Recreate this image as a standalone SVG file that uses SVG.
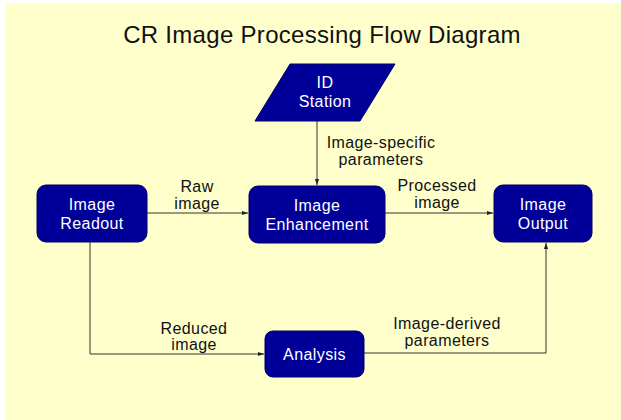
<svg xmlns="http://www.w3.org/2000/svg" width="621" height="420" viewBox="0 0 621 420">
<defs>
<style>
.node{fill:#000099;stroke:#000066;stroke-width:1}
.nt{font-family:"Liberation Sans",Arial,sans-serif;font-size:16px;letter-spacing:0.4px;fill:#ffffff;text-anchor:middle}
.lb{font-family:"Liberation Sans",Arial,sans-serif;font-size:16px;letter-spacing:0.4px;fill:#111111;text-anchor:middle}
.edge{fill:none;stroke:#333333;stroke-width:1}
</style>
<marker id="ah" viewBox="0 0 10 10" refX="10" refY="5" markerWidth="6" markerHeight="6" orient="auto" markerUnits="userSpaceOnUse">
<path d="M0,1.5 L10,5 L0,8.5 z" fill="#222222"/>
</marker>
</defs>
<rect x="0" y="0" width="621" height="420" fill="#ffffff"/>
<rect x="6" y="3" width="615" height="417" fill="#FFFFCC"/>
<text x="322" y="43" font-family="'Liberation Sans',Arial,sans-serif" font-size="24" letter-spacing="0.3" fill="#111111" text-anchor="middle">CR Image Processing Flow Diagram</text>
<g id="connectors">
<path class="edge" d="M147,213 H248" marker-end="url(#ah)"/>
<path class="edge" d="M385,213 H493" marker-end="url(#ah)"/>
<path class="edge" d="M317,121 V185" marker-end="url(#ah)"/>
<path class="edge" d="M90,242 V354 H264" marker-end="url(#ah)"/>
<path class="edge" d="M364,353 H546 V243" marker-end="url(#ah)"/>
<text class="lb" x="197" y="192">Raw</text>
<text class="lb" x="197" y="209">image</text>
<text class="lb" x="437" y="191">Processed</text>
<text class="lb" x="437" y="208">image</text>
<text class="lb" x="381" y="148">Image-specific</text>
<text class="lb" x="381" y="165">parameters</text>
<text class="lb" x="194" y="334">Reduced</text>
<text class="lb" x="194" y="350">image</text>
<text class="lb" x="447" y="329">Image-derived</text>
<text class="lb" x="447" y="346">parameters</text>
</g>
<g id="id-station">
<polygon class="node" points="290,64 395,64 360,121 255,121"/>
<text class="nt" x="325" y="88">ID</text>
<text class="nt" x="325" y="107">Station</text>
</g>
<g id="image-readout">
<rect class="node" x="37" y="185" width="110" height="57" rx="9"/>
<text class="nt" x="92" y="210">Image</text>
<text class="nt" x="92" y="229">Readout</text>
</g>
<g id="image-enhancement">
<rect class="node" x="249" y="186" width="136" height="57" rx="9"/>
<text class="nt" x="317" y="211">Image</text>
<text class="nt" x="317" y="230">Enhancement</text>
</g>
<g id="image-output">
<rect class="node" x="494" y="185" width="98" height="57" rx="9"/>
<text class="nt" x="543" y="210">Image</text>
<text class="nt" x="543" y="229">Output</text>
</g>
<g id="analysis">
<rect class="node" x="265" y="331" width="99" height="46" rx="8"/>
<text class="nt" x="314.5" y="360">Analysis</text>
</g>
</svg>
